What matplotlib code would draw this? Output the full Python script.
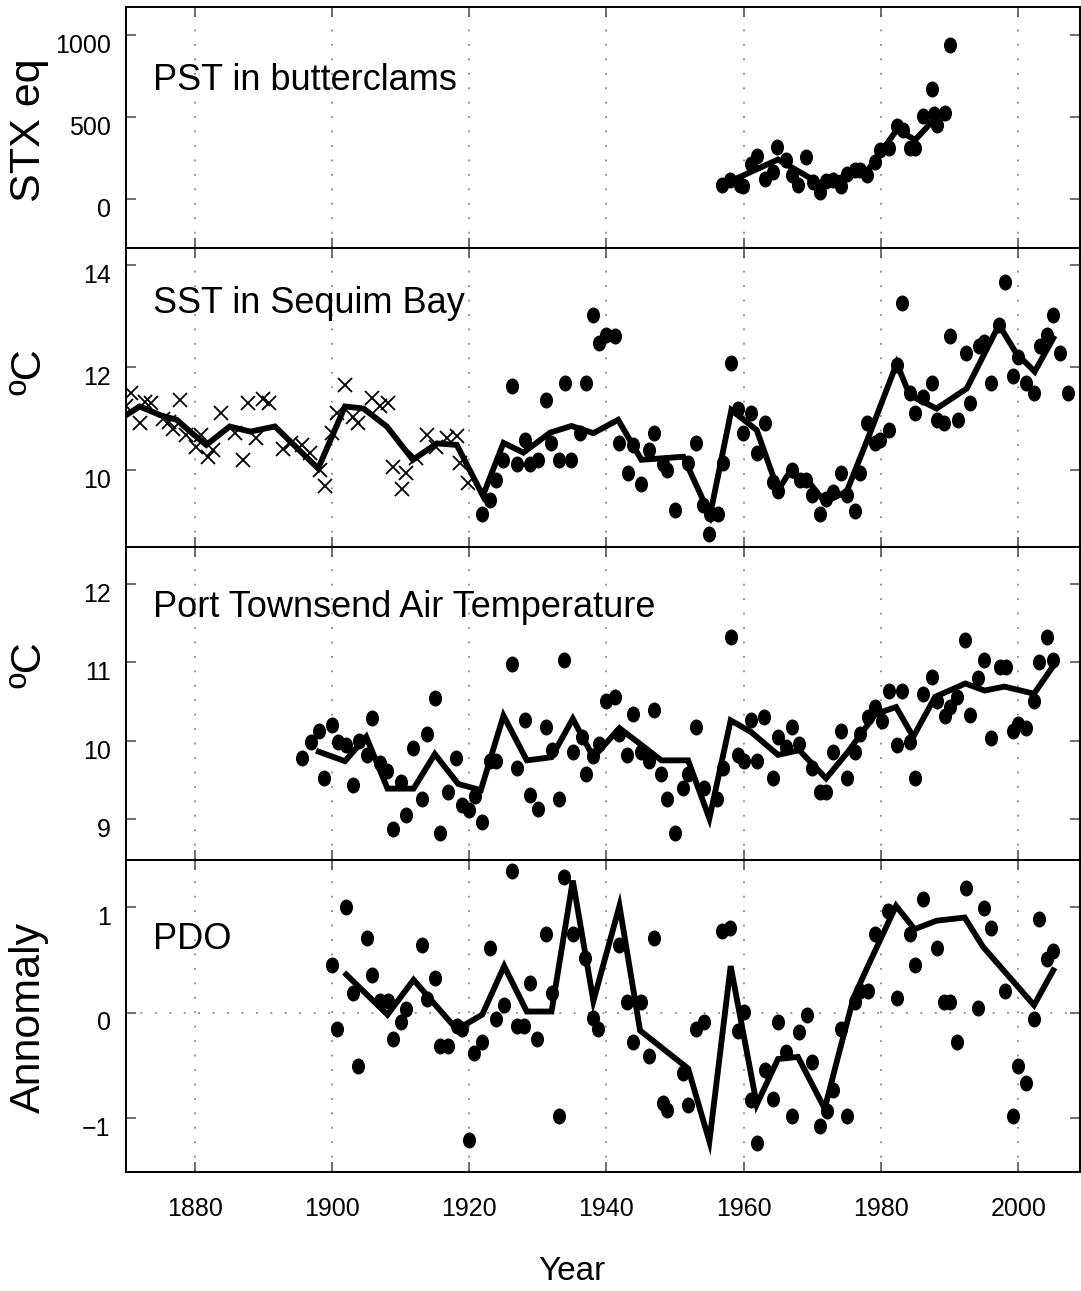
import matplotlib
matplotlib.use("Agg")
import matplotlib.pyplot as plt
import matplotlib.transforms as mtransforms
from matplotlib.path import Path

# ---- data ----
# PST in butterclams (STX eq)
pst_year = [1956.9, 1958.0, 1959.5, 1959.9, 1961.1, 1961.9, 1963.1, 1964.2, 1964.9, 1966.2,
            1967.0, 1967.9, 1969.1, 1970.1, 1971.1, 1972.0, 1973.0, 1974.2, 1975.0, 1976.2,
            1976.9, 1978.0, 1979.1, 1979.9, 1981.2, 1982.3, 1983.2, 1984.2, 1984.9, 1986.1,
            1987.4, 1987.8, 1988.1, 1989.3, 1990.0]
pst_val = [87, 112, 87, 80, 215, 260, 122, 163, 318, 236,
           143, 87, 256, 101, 39, 107, 112, 81, 149, 174,
           174, 143, 225, 298, 308, 442, 421, 308, 308, 504,
           670, 515, 452, 521, 938]
pst_smooth_year = [1958.5, 1965.0, 1971.0, 1975.0, 1978.0, 1982.3, 1985.0, 1988.1]
pst_smooth_val = [115, 240, 95, 140, 170, 420, 360, 500]

# SST in Sequim Bay: early reconstruction (crosses) and measured (dots)
sst_x_year = [1870.0, 1870.7, 1872.1, 1872.8, 1873.7, 1875.4, 1876.2, 1876.9, 1877.8, 1878.8,
              1880.2, 1881.0, 1882.0, 1882.7, 1883.9, 1885.9, 1887.0, 1887.8, 1888.9, 1890.0,
              1890.9, 1892.9, 1894.1, 1895.6, 1896.8, 1898.2, 1899.0, 1900.0, 1900.7, 1901.9,
              1903.1, 1903.8, 1905.8, 1907.0, 1908.2, 1908.9, 1910.2, 1910.8, 1912.2, 1913.8,
              1915.2, 1916.7, 1918.2, 1918.6, 1919.9]
sst_x_val = [11.24, 11.51, 10.91, 11.33, 11.31, 10.99, 10.94, 10.81, 11.37, 10.68,
             10.45, 10.68, 10.26, 10.39, 11.11, 10.72, 10.20, 11.30, 10.62, 11.38,
             11.31, 10.42, 10.52, 10.49, 10.34, 10.00, 9.69, 10.72, 11.11, 11.66,
             11.04, 10.91, 11.40, 11.24, 11.30, 10.06, 9.64, 9.94, 10.23, 10.68,
             10.45, 10.62, 10.66, 10.13, 9.74]
sst_dot_year = [1921.9, 1923.1, 1923.9, 1925.0, 1926.2, 1926.9, 1928.1, 1928.8, 1930.0, 1931.2,
                1931.9, 1933.1, 1933.9, 1934.9, 1936.1, 1937.0, 1938.1, 1938.9, 1940.0, 1941.2,
                1941.9, 1943.2, 1943.9, 1945.0, 1946.2, 1946.9, 1948.2, 1948.8, 1950.0, 1951.9,
                1953.1, 1954.1, 1955.0, 1955.1, 1956.3, 1957.0, 1958.1, 1959.2, 1959.9, 1961.1,
                1961.9, 1963.1, 1964.2, 1965.0, 1967.0, 1968.2, 1969.1, 1970.0, 1971.1, 1972.0,
                1973.0, 1974.2, 1975.1, 1976.2, 1976.9, 1978.0, 1979.2, 1979.9, 1981.1, 1982.3,
                1983.1, 1984.2, 1984.9, 1986.1, 1987.4, 1988.1, 1989.2, 1990.0, 1991.2, 1992.4,
                1993.0, 1994.3, 1995.0, 1996.1, 1997.2, 1998.0, 1999.2, 2000.0, 2001.1, 2002.3,
                2003.1, 2004.2, 2005.0, 2006.1, 2007.3]
sst_dot_val = [9.14, 9.41, 9.80, 10.20, 11.64, 10.12, 10.59, 10.12, 10.20, 11.37,
               10.52, 10.20, 11.70, 10.20, 10.72, 11.70, 13.02, 12.48, 12.63, 12.61,
               10.52, 9.94, 10.49, 9.73, 10.39, 10.72, 10.12, 10.00, 9.22, 10.13,
               10.52, 9.32, 8.75, 9.15, 9.14, 10.13, 12.09, 11.20, 10.72, 11.11,
               10.33, 10.91, 9.77, 9.60, 10.00, 9.80, 9.80, 9.51, 9.14, 9.43,
               9.58, 9.94, 9.51, 9.21, 9.94, 10.92, 10.53, 10.59, 10.78, 12.05,
               13.26, 11.50, 11.11, 11.42, 11.70, 10.98, 10.91, 12.61, 10.98, 12.29,
               11.30, 12.42, 12.50, 11.70, 12.83, 13.67, 11.83, 12.21, 11.70, 11.50,
               12.42, 12.63, 13.02, 12.29, 11.50]
sst_smooth_year = [1870.0, 1872.0, 1875.0, 1877.4, 1879.6, 1881.7, 1885.1, 1888.1, 1891.7, 1898.0,
                   1901.9, 1904.6, 1908.0, 1911.8, 1915.3, 1918.2, 1922.0, 1925.0, 1927.9, 1931.8,
                   1934.9, 1938.1, 1941.7, 1945.1, 1951.2, 1955.1, 1958.2, 1961.9, 1965.0, 1966.5,
                   1969.3, 1971.8, 1975.0, 1978.4, 1982.3, 1984.2, 1988.1, 1992.5, 1997.2, 1999.7,
                   2002.4, 2005.1]
sst_smooth_val = [11.07, 11.24, 11.07, 10.98, 10.72, 10.49, 10.85, 10.75, 10.85, 10.03,
                  11.24, 11.20, 10.85, 10.20, 10.52, 10.49, 9.50, 10.53, 10.34, 10.73,
                  10.86, 10.72, 10.98, 10.20, 10.26, 9.12, 11.17, 10.78, 9.61, 9.92,
                  9.80, 9.38, 9.58, 10.72, 12.08, 11.46, 11.20, 11.59, 12.83, 12.28,
                  11.92, 12.57]

# Port Townsend air temperature
air_year = [1895.7, 1896.9, 1898.1, 1898.9, 1900.0, 1900.9, 1902.0, 1903.1, 1903.9, 1905.1,
            1905.9, 1907.0, 1908.1, 1908.9, 1910.0, 1910.8, 1911.8, 1913.1, 1913.9, 1915.0,
            1915.8, 1916.9, 1918.1, 1918.9, 1920.0, 1920.8, 1921.9, 1923.1, 1923.9, 1926.2,
            1927.0, 1928.1, 1928.9, 1930.0, 1931.2, 1932.0, 1933.1, 1933.8, 1935.1, 1936.4,
            1937.0, 1938.1, 1938.9, 1940.0, 1941.2, 1941.9, 1943.0, 1943.9, 1945.0, 1946.2,
            1946.9, 1948.0, 1948.8, 1950.0, 1951.2, 1951.9, 1953.1, 1954.2, 1956.1, 1957.0,
            1958.1, 1959.2, 1960.0, 1961.1, 1961.9, 1963.0, 1964.2, 1965.0, 1966.1, 1967.0,
            1968.1, 1969.9, 1971.1, 1972.0, 1973.0, 1974.2, 1975.0, 1976.2, 1976.9, 1978.1,
            1979.2, 1980.1, 1981.2, 1982.3, 1983.0, 1984.2, 1984.9, 1986.1, 1987.4, 1988.2,
            1989.3, 1990.0, 1991.1, 1992.3, 1993.0, 1994.1, 1995.0, 1996.1, 1997.3, 1998.2,
            1999.2, 2000.0, 2001.2, 2002.3, 2003.0, 2004.2, 2005.0]
air_val = [9.78, 9.99, 10.12, 9.52, 10.20, 9.99, 9.95, 9.44, 10.00, 9.82,
           10.29, 9.72, 9.61, 8.88, 9.48, 9.05, 9.91, 9.26, 10.08, 10.55,
           8.83, 9.35, 9.78, 9.18, 9.12, 9.30, 8.96, 9.74, 9.74, 10.98,
           9.65, 10.26, 9.31, 9.13, 10.17, 9.88, 9.26, 11.03, 9.86, 10.05,
           9.57, 9.81, 9.96, 10.51, 10.56, 10.08, 9.82, 10.34, 9.86, 9.74,
           10.39, 9.57, 9.26, 8.83, 9.40, 9.58, 10.17, 9.40, 9.26, 9.65,
           11.32, 9.82, 9.74, 10.26, 9.74, 10.30, 9.52, 10.05, 9.92, 10.17,
           9.96, 9.65, 9.35, 9.35, 9.86, 10.12, 9.52, 9.86, 10.09, 10.30,
           10.43, 10.25, 10.64, 9.95, 10.64, 9.99, 9.52, 10.60, 10.81, 10.51,
           10.32, 10.43, 10.56, 11.28, 10.33, 10.80, 11.03, 10.03, 10.94, 10.94,
           10.12, 10.22, 10.16, 10.51, 11.01, 11.32, 11.03]
air_smooth_year = [1898.1, 1901.9, 1905.0, 1908.1, 1911.9, 1915.0, 1918.4, 1921.7, 1925.0, 1928.4,
                   1932.0, 1935.1, 1938.1, 1941.9, 1944.9, 1948.0, 1951.9, 1955.0, 1958.1, 1961.1,
                   1965.0, 1968.1, 1972.0, 1975.2, 1979.2, 1982.2, 1984.7, 1987.9, 1992.3, 1995.1,
                   1998.0, 2002.3, 2005.0]
air_smooth_val = [9.86, 9.74, 10.05, 9.39, 9.39, 9.83, 9.45, 9.37, 10.32, 9.75,
                  9.79, 10.28, 9.79, 10.16, 9.96, 9.75, 9.75, 9.01, 10.26, 10.11,
                  9.82, 9.88, 9.52, 9.86, 10.34, 10.43, 10.05, 10.56, 10.73, 10.64,
                  10.69, 10.60, 10.94]

# PDO anomaly
pdo_year = [1900.0, 1900.8, 1902.0, 1903.1, 1903.8, 1905.1, 1905.8, 1907.0, 1908.2, 1908.9,
            1910.0, 1910.8, 1913.1, 1913.8, 1915.0, 1915.8, 1916.9, 1918.2, 1918.9, 1920.0,
            1920.7, 1921.9, 1923.0, 1923.9, 1925.1, 1926.2, 1926.9, 1928.0, 1928.8, 1929.9,
            1931.2, 1932.0, 1933.1, 1933.8, 1935.1, 1936.9, 1938.1, 1938.8, 1941.9, 1943.0,
            1943.8, 1945.1, 1946.2, 1946.9, 1948.2, 1948.8, 1951.2, 1951.9, 1953.1, 1954.2,
            1956.9, 1958.0, 1959.2, 1960.0, 1961.1, 1961.9, 1963.1, 1964.2, 1965.0, 1966.1,
            1967.0, 1968.1, 1969.2, 1970.0, 1971.1, 1972.1, 1973.0, 1974.2, 1975.0, 1976.2,
            1976.9, 1978.1, 1979.2, 1981.0, 1982.3, 1984.2, 1984.9, 1986.1, 1988.1, 1989.2,
            1990.0, 1991.1, 1992.4, 1994.1, 1995.0, 1996.1, 1998.0, 1999.2, 2000.0, 2001.1,
            2002.3, 2003.0, 2004.2, 2005.0]
pdo_val = [0.45, -0.16, 1.00, 0.19, -0.51, 0.71, 0.36, 0.11, 0.11, -0.25,
           -0.09, 0.03, 0.64, 0.13, 0.33, -0.32, -0.32, -0.13, -0.16, -1.21,
           -0.38, -0.28, 0.61, -0.06, 0.07, 1.34, -0.13, -0.13, 0.28, -0.25,
           0.74, 0.19, -0.98, 1.28, 0.74, 0.52, -0.05, -0.16, 0.64, 0.10,
           -0.28, 0.10, -0.41, 0.71, -0.86, -0.92, -0.57, -0.88, -0.16, -0.09,
           0.77, 0.80, -0.17, 0.01, -0.83, -1.24, -0.54, -0.82, -0.09, -0.37,
           -0.98, -0.18, -0.02, -0.47, -1.07, -0.93, -0.73, -0.16, -0.98, 0.10,
           0.20, 0.20, 0.74, 0.96, 0.14, 0.74, 0.45, 1.08, 0.61, 0.10,
           0.10, -0.28, 1.18, 0.04, 0.99, 0.80, 0.20, -0.98, -0.51, -0.67,
           -0.06, 0.89, 0.51, 0.58]
pdo_smooth_year = [1902.1, 1908.1, 1911.9, 1918.2, 1921.9, 1925.1, 1928.4, 1932.0, 1935.1, 1938.1,
                   1941.9, 1944.9, 1951.9, 1955.0, 1958.1, 1961.9, 1965.0, 1967.9, 1971.8, 1973.7,
                   1976.0, 1978.1, 1982.2, 1984.9, 1988.1, 1992.2, 1994.9, 2002.3, 2005.1]
pdo_smooth_val = [0.36, -0.02, 0.31, -0.16, -0.02, 0.44, 0.01, 0.01, 1.25, 0.11,
                  1.01, -0.17, -0.53, -1.22, 0.44, -0.87, -0.44, -0.42, -0.91, -0.43,
                  0.14, 0.44, 1.01, 0.79, 0.87, 0.90, 0.62, 0.07, 0.40]

year_ticks = [1880, 1900, 1920, 1940, 1960, 1980, 2000]

# ---- figure ----
plt.rcParams["font.family"] = ["Liberation Sans", "DejaVu Sans"]

W, H = 1081, 1291
fig = plt.figure(figsize=(W / 100, H / 100), dpi=100)

# squeezed circle, the dots in the original are a bit taller than wide
circ = Path.unit_circle()
dot = Path(circ.vertices * [0.8, 1.0], circ.codes)

left, right = 126 / W, 1080 / W
edges = [7, 248, 547, 860, 1172]  # panel borders in pixels from top
axes = []
for i in range(4):
    top, bot = edges[i], edges[i + 1]
    ax = fig.add_axes([left, 1 - bot / H, right - left, (bot - top) / H])
    axes.append(ax)

grid_style = dict(color="#888888", linestyle=(0, (1, 7)), linewidth=1.3)
dot_style = dict(linestyle="none", marker=dot, markersize=10.5, color="black")
line_style = dict(color="black", linewidth=4.2, solid_joinstyle="miter")

ax1, ax2, ax3, ax4 = axes

ax1.plot(pst_year, pst_val, **dot_style)
ax1.plot(pst_smooth_year, pst_smooth_val, **line_style)
ax1.set_ylim(-300, 1170)
ax1.set_yticks([0, 500, 1000])

ax2.plot(sst_x_year, sst_x_val, linestyle="none", marker="x", markersize=9.5,
         markeredgewidth=1.3, color="black")
ax2.plot(sst_dot_year, sst_dot_val, **dot_style)
ax2.plot(sst_smooth_year, sst_smooth_val, **line_style)
ax2.set_ylim(8.5, 14.33)
ax2.set_yticks([10, 12, 14])

ax3.plot(air_year, air_val, **dot_style)
ax3.plot(air_smooth_year, air_smooth_val, **line_style)
ax3.set_ylim(8.48, 12.47)
ax3.set_yticks([9, 10, 11, 12])

ax4.axhline(0, **grid_style)
ax4.plot(pdo_year, pdo_val, **dot_style)
ax4.plot(pdo_smooth_year, pdo_smooth_val, **line_style)
ax4.set_ylim(-1.51, 1.445)
ax4.set_yticks([-1, 0, 1])
ax4.set_yticklabels(["\u22121", "0", "1"])

titles = ["PST in butterclams", "SST in Sequim Bay", "Port Townsend Air Temperature", "PDO"]
title_y = [0.697, 0.816, 0.808, 0.744]
shift = mtransforms.ScaledTranslation(0, -6 / 72, fig.dpi_scale_trans)

for ax, t, ty in zip(axes, titles, title_y):
    ax.set_xlim(1870, 2009)
    ax.set_xticks(year_ticks)
    ax.grid(axis="x", **grid_style)
    ax.set_axisbelow(True)
    ax.tick_params(direction="in", length=7, width=1.2, color="#555555",
                   top=True, right=True, labelsize=18, pad=11)
    ax.tick_params(axis="x", pad=18)
    for s in ax.spines.values():
        s.set_linewidth(1.4)
    if ax is not ax4:
        ax.tick_params(axis="x", labelbottom=False)
    ax.text(0.028, ty, t, transform=ax.transAxes, fontsize=26,
            ha="left", va="center")
    for lab in ax.get_yticklabels():
        lab.set_transform(lab.get_transform() + shift)

# y axis labels, rotated
ylab_font = dict(fontsize=31, rotation=90, ha="center", va="center")
fig.text(29 / W, 1 - 130 / H, "STX eq", **ylab_font)
fig.text(29 / W, 1 - 372 / H, "\u00baC", **ylab_font)
fig.text(29 / W, 1 - 665 / H, "\u00baC", **ylab_font)
fig.text(29 / W, 1 - 1017 / H, "Annomaly", **ylab_font)

fig.text(572 / W, 1 - 1272 / H, "Year", fontsize=24, ha="center", va="center")

fig.savefig("out.png", dpi=100)
